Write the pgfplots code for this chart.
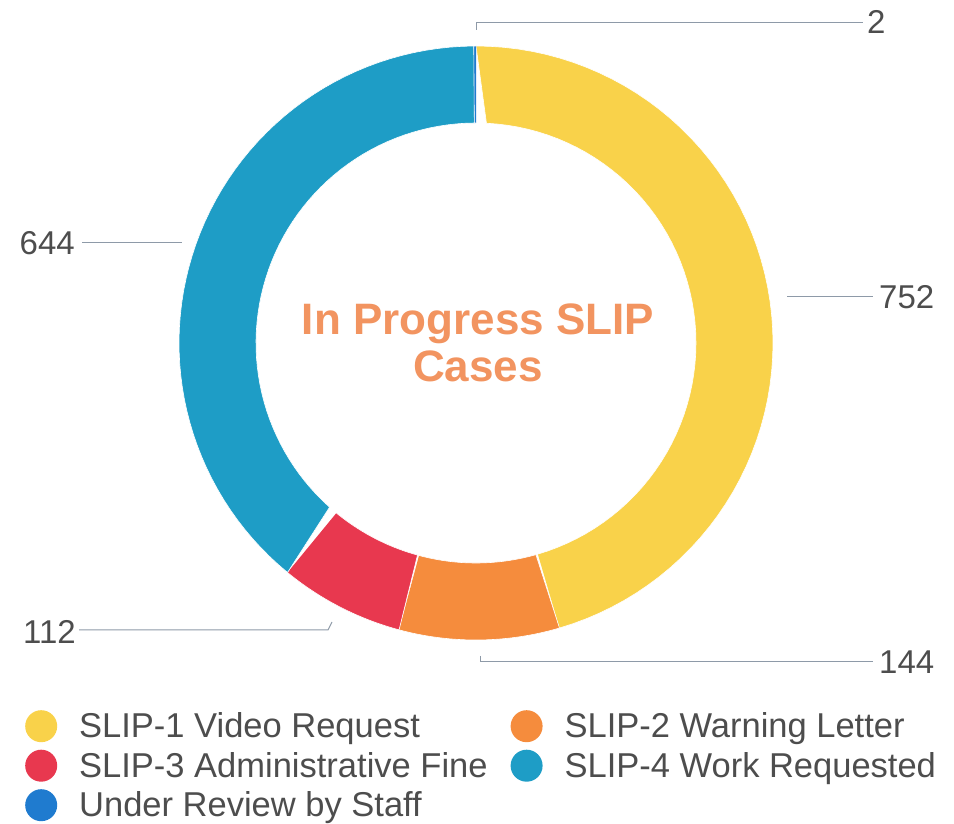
\documentclass[border=0pt]{standalone}
\usepackage{pgfplots}
\usepackage{pgfplotstable}
\pgfplotsset{compat=1.18}
\usepackage{fontspec}
\setmainfont{Liberation Sans}
\definecolor{slice0}{HTML}{F9D24A}
\definecolor{slice1}{HTML}{F58C3D}
\definecolor{slice2}{HTML}{E8384F}
\definecolor{slice3}{HTML}{1E9DC6}
\definecolor{slice4}{HTML}{1F7BCF}
\definecolor{centertxt}{HTML}{F29460}
\definecolor{textgray}{HTML}{4D4D4D}
\definecolor{leader}{HTML}{8E9AA8}

\pgfplotstableread{
value
752
144
112
644
2
}\slipdata

\begin{document}
\begin{tikzpicture}
\begin{axis}[
  x=1pt, y=1pt, scale only axis,
  xmin=0, xmax=954, ymin=0, ymax=823,
  hide axis, clip=false,
  legend entries={SLIP-1 Video Request, SLIP-2 Warning Letter, SLIP-3 Administrative Fine, SLIP-4 Work Requested, Under Review by Staff},
  legend columns=2,
  legend cell align=left,
  legend image code/.code={\fill[#1, draw=none] (16pt,0pt) circle (16pt);},
  legend style={at={(axis cs:25,113)}, anchor=north west, draw=none, fill=none,
    font=\fontsize{34.5}{40}\selectfont, text=textgray, inner sep=0pt, row sep=7.5pt,
    nodes={inner sep=0pt},
    /tikz/every odd column/.append style={column sep=22pt},
    /tikz/every even column/.append style={column sep=23pt}},
]
\addplot[draw=none, forget plot] coordinates {(0,0) (954,823)};
\pgfplotstablegetrowsof{\slipdata}
\pgfmathtruncatemacro{\nrows}{\pgfplotsretval-1}
\def\total{0}
\pgfplotsforeachungrouped \i in {0,...,\nrows}{%
  \pgfplotstablegetelem{\i}{value}\of\slipdata
  \pgfmathsetmacro{\total}{\total+\pgfplotsretval}%
}
\def\cum{0}
\pgfplotsforeachungrouped \i in {0,...,\nrows}{%
  \pgfplotstablegetelem{\i}{value}\of\slipdata
  \pgfmathsetmacro{\aS}{90-(\cum+\pgfplotsretval)/\total*360}%
  \pgfmathsetmacro{\aE}{90-\cum/\total*360}%
  \pgfmathsetmacro{\aD}{\aE-\aS}%
  \pgfmathsetmacro{\cum}{\cum+\pgfplotsretval}%
  \edef\doplot{\noexpand\addplot[fill=slice\i, draw=white, line width=0.6pt, domain=0:2, samples=121]
    ({ifthenelse(x<1, 476+297*cos(\aS+\aD*x), 476+220*cos(\aE-\aD*(x-1)))},
     {ifthenelse(x<1, 480+297*sin(\aS+\aD*x), 480+220*sin(\aE-\aD*(x-1)))});}%
  \doplot
}
% leader lines
\addplot[leader, line width=1pt, forget plot] coordinates {(476,793) (476,800) (863,800)};
\addplot[leader, line width=1pt, forget plot] coordinates {(787,526) (873,526)};
\addplot[leader, line width=1pt, forget plot] coordinates {(82,580) (182,580)};
\addplot[leader, line width=1pt, forget plot] coordinates {(79,193) (328,193) (332,201)};
\addplot[leader, line width=1pt, forget plot] coordinates {(480,167) (480,161) (873,161)};
% value labels
\node[anchor=west, text=textgray, font=\fontsize{33}{40}\selectfont, inner sep=0pt] at (axis cs:867,801) {2};
\node[anchor=west, text=textgray, font=\fontsize{33}{40}\selectfont, inner sep=0pt] at (axis cs:879,526) {752};
\node[anchor=east, text=textgray, font=\fontsize{33}{40}\selectfont, inner sep=0pt] at (axis cs:75,580) {644};
\node[anchor=east, text=textgray, font=\fontsize{33}{40}\selectfont, inner sep=0pt] at (axis cs:76,191) {112};
\node[anchor=west, text=textgray, font=\fontsize{33}{40}\selectfont, inner sep=0pt] at (axis cs:879,161) {144};
% center title
\node[anchor=base, text=centertxt, font=\fontsize{44}{50}\selectfont\bfseries, inner sep=0pt] at (axis cs:478,488) {In Progress SLIP};
\node[anchor=base, text=centertxt, font=\fontsize{44}{50}\selectfont\bfseries, inner sep=0pt] at (axis cs:478,441) {Cases};
\end{axis}
\end{tikzpicture}
\end{document}
